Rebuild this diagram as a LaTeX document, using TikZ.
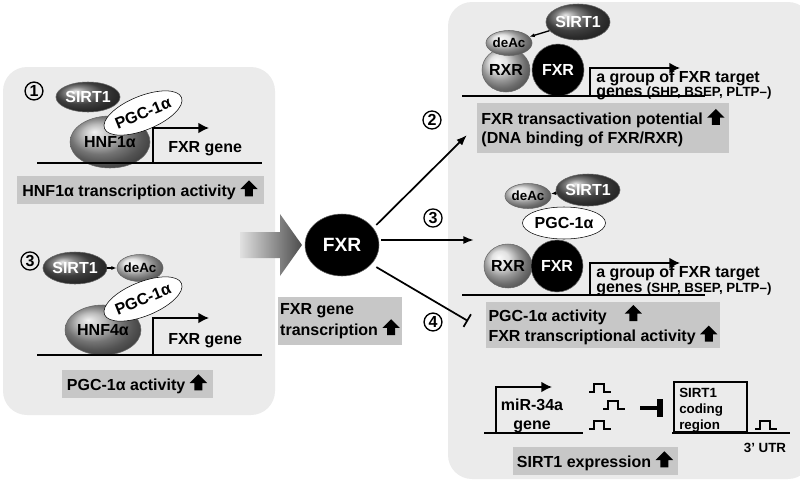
\documentclass[tikz,border=0pt]{standalone}
\usepackage{fontspec}
\setmainfont{Liberation Sans}
\usetikzlibrary{positioning,calc,shapes.geometric,arrows.meta}
\newcommand{\px}[1]{#1*0.75pt}
\tikzset{
  panel/.style={fill=black!8, draw=none, rounded corners=18pt},
  infobox/.style={fill=black!22, align=center, font=\bfseries\large, inner sep=3pt},
  protein/.style={ellipse, draw=black!60, font=\bfseries\large, inner sep=0pt},
  darkprot/.style={protein, ball color=black!65, text=white},
  midprot/.style={protein, ball color=black!35},
  lightprot/.style={protein, ball color=black!15},
  pgc/.style={protein, fill=white, draw=black},
  num/.style={circle, draw, line width=1pt, font=\bfseries\large, inner sep=1pt},
  dna/.style={line width=1.3pt},
  promoter/.style={line width=1.1pt, -{Latex[length=8pt,width=8pt]}},
  label/.style={font=\bfseries\large, inner sep=0pt},
  small/.style={font=\bfseries, inner sep=0pt},
}
\newcommand{\upa}{\tikz[baseline=0pt]\fill (0,0)--(0,5.5pt)--(-3.5pt,5.5pt)--(3pt,12pt)--(9.5pt,5.5pt)--(6pt,5.5pt)--(6pt,0)--cycle;}
\newcommand{\squig}[1]{\draw[line width=1.2pt] ($(#1)+(-11,0)$) -- ++(5,0) -- ++(0,-8) -- ++(10,0) -- ++(0,8) -- ++(7,0);}
\begin{document}
\begin{tikzpicture}[x=0.75pt,y=-0.75pt]
\useasboundingbox (0,0) rectangle (800,479);
% panels
\fill[panel] (3,67) rectangle (275,415);
\fill[panel] (448,2) rectangle (812,479);
% left, step 1
\node[num] (n1) at (34,91) {1};
\node[midprot, minimum width=\px{80}, minimum height=\px{52}] (hnf1) at (110,142) {HNF1α};
\node[darkprot, minimum width=\px{50}, minimum height=\px{30}] (sirt1a) at (88,97) {SIRT1};
\node[pgc, minimum width=\px{62}, minimum height=\px{34}, rotate=22] (pgc1) at (143,113) {PGC-1α};
\coordinate (base1a) at (37,163);
\coordinate (base1b) at (262,163);
\draw[dna] (base1a) -- (base1b);
\coordinate (tss1) at (153,163);
\draw[promoter] (tss1) -- ++(0,-35) -- ++(56,0);
\node[label, anchor=west] (gene1) at (168,149) {FXR gene};
\node[infobox, minimum width=\px{247}, minimum height=\px{27}] (box1) at (140,190) {HNF1α transcription activity \upa};
% left, step 3
\node[num] (n3a) at (30,261) {3};
\node[midprot, minimum width=\px{76}, minimum height=\px{50}] (hnf4) at (103,330) {HNF4α};
\node[lightprot, minimum width=\px{40}, minimum height=\px{27}, font=\bfseries] (deac1) at (140,268) {deAc};
\node[darkprot, minimum width=\px{52}, minimum height=\px{32}] (sirt1b) at (75,268) {SIRT1};
\draw[line width=1pt, -{Latex[length=4pt]}] (sirt1b) -- (deac1);
\node[pgc, minimum width=\px{62}, minimum height=\px{34}, rotate=22] (pgc2) at (143,299) {PGC-1α};
\draw[dna] (37,355) coordinate (base3a) -- (262,355) coordinate (base3b);
\coordinate (tss3) at (153,355);
\draw[promoter] (tss3) -- ++(0,-37) -- ++(56,0);
\node[label, anchor=west] (gene3) at (168,341) {FXR gene};
\node[infobox, minimum width=\px{151}, minimum height=\px{26}] (box3) at (137,384) {PGC-1α activity \upa};
% centre
\shade[left color=black!12, right color=black!70] (240,232) -- (280,232) -- (280,214) -- (302,245) -- (280,276) -- (280,258) -- (240,258) -- cycle;
\node[protein, fill=black, text=white, minimum width=\px{74}, minimum height=\px{62}, font=\bfseries\Large] (fxr) at (342,245) {FXR};
\node[infobox, minimum width=\px{95}, minimum height=\px{48}, align=left, inner sep=2pt] (boxfxr) at (340,321) {FXR gene\\transcription \upa};
% arrows from FXR
\coordinate (t2) at (467,135);
\coordinate (t3) at (474,240);
\coordinate (t4) at (468,321);
\draw[line width=1.3pt, -{Latex[length=8pt]}] (fxr.north east) ++(8,2) -- (t2);
\draw[line width=1.3pt, -{Latex[length=8pt]}] (fxr.east) ++(2,-5) -- (t3);
\draw[line width=1.3pt, -{Bar[width=11pt]}] (fxr.south east) ++(8,0) -- (t4);
\node[num] (n2) at (432,120) {2};
\node[num] (n3b) at (433,218) {3};
\node[num] (n4) at (433,322) {4};
% right, top
\node[lightprot, minimum width=\px{48}, minimum height=\px{44}] (rxr1) at (506,70) {RXR};
\node[protein, fill=black, text=white, minimum width=\px{52}, minimum height=\px{52}] (fxr1) at (558,70) {FXR};
\node[lightprot, minimum width=\px{38}, minimum height=\px{25}, font=\bfseries] (deac2) at (509,43) {deAc};
\node[darkprot, minimum width=\px{48}, minimum height=\px{36}] (sirt1c) at (578,22) {SIRT1};
\draw[line width=1pt, -{Latex[length=4pt]}] (sirt1c) -- (deac2);
\draw[dna] (462,96) coordinate (base2a) -- (705,96) coordinate (base2b);
\coordinate (tss2) at (590,96);
\draw[promoter] (tss2) -- ++(0,-28) -- ++(90,0);
\node[label, anchor=west] (tg1) at (596,78) {a group of FXR target};
\node[label, anchor=west] (tg2) at (596,93) {genes {\normalsize(SHP, BSEP, PLTP--)}};
\node[infobox, minimum width=\px{193}, minimum height=\px{50}, align=left] (box2) at (603,128) {FXR transactivation potential \upa\\(DNA binding of FXR/RXR)};
% right, middle
\node[lightprot, minimum width=\px{48}, minimum height=\px{44}] (rxr2) at (508,266) {RXR};
\node[protein, fill=black, text=white, minimum width=\px{52}, minimum height=\px{52}] (fxr2) at (557,266) {FXR};
\node[pgc, minimum width=\px{66}, minimum height=\px{32}] (pgc3) at (564,223) {PGC-1α};
\node[lightprot, minimum width=\px{38}, minimum height=\px{25}, font=\bfseries] (deac3) at (528,196) {deAc};
\node[darkprot, minimum width=\px{48}, minimum height=\px{32}] (sirt1d) at (588,190) {SIRT1};
\draw[line width=1pt, -{Latex[length=4pt]}] (sirt1d) -- (deac3);
\draw[dna] (462,295) coordinate (base4a) -- (705,295) coordinate (base4b);
\coordinate (tss4) at (590,295);
\draw[promoter] (tss4) -- ++(0,-32) -- ++(90,0);
\node[label, anchor=west] (tg3) at (596,273) {a group of FXR target};
\node[label, anchor=west] (tg4) at (596,289) {genes {\normalsize(SHP, BSEP, PLTP--)}};
\node[infobox, minimum width=\px{193}, minimum height=\px{42}, align=left, inner sep=2pt] (box4) at (603,325) {PGC-1α activity \ \ \ \upa\\FXR transcriptional activity \upa};
% right, bottom
\draw[dna] (484,433) coordinate (base5a) -- (583,433) coordinate (base5b);
\coordinate (tss5) at (496,433);
\draw[promoter] (tss5) -- ++(0,-46) -- ++(56,0);
\node[label, align=center] (mir) at (532,416) {miR-34a\\gene};
\squig{600,392}
\squig{614,409}
\squig{600,429}
\coordinate (bar1) at (640,408);
\coordinate (bar2) at (660,408);
\draw[line width=3.5pt] (bar1) -- (bar2);
\draw[line width=4pt] ($(bar2)+(0,-9)$) -- ($(bar2)+(0,9)$);
\draw[dna] (672,433) coordinate (base6a) -- (790,433) coordinate (base6b);
\node[draw, line width=1.3pt, minimum width=\px{73}, minimum height=\px{50}, anchor=south west, inner sep=3pt] (coding) at (673,433) {};
\node[small, align=left, anchor=north west] (codtxt) at (679,388) {SIRT1\\coding\\region};
\squig{766,429}
\node[small] (utr) at (765,448) {3' UTR};
\node[infobox, minimum width=\px{165}, minimum height=\px{25}] (box5) at (595,461) {SIRT1 expression \upa};
\end{tikzpicture}
\end{document}
